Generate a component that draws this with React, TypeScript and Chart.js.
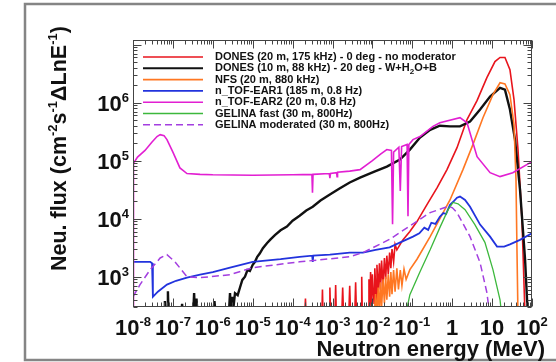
import React, { useEffect, useRef } from "react";
import { Chart, registerables } from "chart.js";

Chart.register(...registerables);

// ---------- axes ----------
const X_MIN = 1e-8;
const X_MAX = 100;
const Y_MIN = 300;
const Y_MAX = 1.2e7;
const xTickValues = [1e-8, 1e-7, 1e-6, 1e-5, 1e-4, 1e-3, 1e-2, 1e-1, 1, 10, 100];
const xTickBase = ["10", "10", "10", "10", "10", "10", "10", "10", "1", "10", "10"];
const xTickSup = ["-8", "-7", "-6", "-5", "-4", "-3", "-2", "-1", "", "", "2"];
const yTickValues = [1e3, 1e4, 1e5, 1e6];
const yTickBase = ["10", "10", "10", "10"];
const yTickSup = ["3", "4", "5", "6"];
const xTitle = "Neutron energy (MeV)";
// [text, 0 = normal, 1 = superscript]
const yTitle: [string, number][] = [
  ["Neu. flux (cm", 0], ["-2", 1], ["s", 0], ["-1", 1], ["\u0394LnE", 0], ["-1", 1], [")", 0],
];

// ---------- series labels ----------
const seriesLabels = [
  "DONES (20 m, 175 kHz) - 0 deg - no moderator",
  "DONES (10 m, 88 kHz) - 20 deg - W+H\u2082O+B",
  "NFS (20 m, 880 kHz)",
  "n_TOF-EAR1 (185 m, 0.8 Hz)",
  "n_TOF-EAR2 (20 m, 0.8 Hz)",
  "GELINA fast (30 m, 800Hz)",
  "GELINA moderated (30 m, 800Hz)",
];

// ---------- series data: [energy MeV, flux] ----------
const dones20: [number, number][] = [
  [2.0e-4, 200], [2.1e-4, 420], [2.2e-4, 200], [5.4e-4, 200], [5.6e-4, 600], [5.8e-4, 200],
  [8.2e-4, 200], [8.6e-4, 650], [9.0e-4, 200], [1.15e-3, 200], [1.2e-3, 720], [1.25e-3, 200],
  [1.7e-3, 200], [1.8e-3, 650], [1.9e-3, 200], [2.55e-3, 200], [2.7e-3, 700], [2.85e-3, 200],
  [3.6e-3, 200], [3.8e-3, 800], [4.0e-3, 200], [5.2e-3, 200], [5.4e-3, 1000], [5.6e-3, 200],
  [7.8e-3, 200], [8.2e-3, 900], [8.6e-3, 250], [9.0e-3, 1200], [9.6e-3, 300], [1.0e-2, 1100],
  [1.1e-2, 350], [1.15e-2, 1400], [1.25e-2, 400], [1.3e-2, 1600], [1.4e-2, 500], [1.5e-2, 1700],
  [1.6e-2, 600], [1.7e-2, 1900], [1.85e-2, 700], [2.0e-2, 2100], [2.15e-2, 900], [2.3e-2, 2300],
  [2.5e-2, 1100], [2.7e-2, 2600], [2.9e-2, 1400], [3.1e-2, 3000], [3.4e-2, 1800], [3.7e-2, 3600],
  [4.1e-2, 2900], [5.8e-2, 4300], [8.7e-2, 6000], [0.131, 8900], [0.233, 1.74e4], [0.416, 3.4e4],
  [0.74, 7.0e4], [1.32, 1.67e5], [2.35, 5.1e5], [4.19, 1.08e6], [7.4, 2.7e6], [11.8, 5.1e6],
  [15.8, 6.0e6], [21, 6.0e6], [28, 3.7e6], [35.4, 1.13e6], [44.6, 1.55e5], [56, 9.6e3], [67, 200],
];

const dones10: [number, number][] = [
  [6.0e-8, 200], [6.3e-8, 380], [6.6e-8, 200], [7.2e-8, 200], [7.5e-8, 560], [7.8e-8, 200],
  [1.6e-7, 200], [1.7e-7, 340], [1.8e-7, 200], [3.2e-7, 200], [3.4e-7, 520], [3.6e-7, 200],
  [3.9e-7, 420], [4.2e-7, 200], [1.0e-6, 200], [1.1e-6, 380], [1.2e-6, 200], [2.5e-6, 200],
  [2.7e-6, 520], [2.9e-6, 200], [3.1e-6, 450], [3.3e-6, 300], [3.6e-6, 520], [4.2e-6, 480],
  [4.8e-6, 650], [5.5e-6, 880], [6.4e-6, 1000], [7.4e-6, 1300], [8.5e-6, 1250], [1.0e-5, 1600],
  [1.14e-5, 1800], [1.3e-5, 2200], [1.5e-5, 2500], [1.8e-5, 3100], [2.3e-5, 3800], [2.8e-5, 4400],
  [3.6e-5, 5200], [5.0e-5, 6300], [7.2e-5, 7300], [1.0e-4, 9200], [1.5e-4, 1.12e4], [2.2e-4, 1.38e4],
  [3.2e-4, 1.6e4], [5.0e-4, 2.05e4], [8.6e-4, 2.6e4], [1.5e-3, 3.3e4], [2.7e-3, 4.2e4], [4.9e-3, 5.1e4],
  [1.16e-2, 6.5e4], [2.3e-2, 7.9e4], [4.9e-2, 1.04e5], [8.7e-2, 1.55e5], [0.156, 2.5e5], [0.28, 3.4e5],
  [0.49, 4.0e5], [0.88, 3.9e5], [1.57, 3.9e5], [2.8, 4.7e5], [5.0, 7.6e5], [8.9, 1.27e6],
  [15.8, 1.8e6], [21, 1.67e6], [28, 7.6e5], [37.5, 2.3e5], [50, 3.2e4], [67, 2.0e3], [79, 200],
];

const nfs: [number, number][] = [
  [1.1e-2, 200], [1.2e-2, 500], [1.3e-2, 220], [1.4e-2, 650], [1.5e-2, 250], [1.6e-2, 800],
  [1.7e-2, 300], [1.85e-2, 900], [2.0e-2, 350], [2.15e-2, 1000], [2.3e-2, 400], [2.5e-2, 1100],
  [2.7e-2, 450], [2.9e-2, 1200], [3.1e-2, 500], [3.4e-2, 1300], [3.7e-2, 550], [4.1e-2, 1400],
  [4.5e-2, 600], [5.0e-2, 1300], [5.5e-2, 700], [6.2e-2, 1350], [7.0e-2, 900], [8.7e-2, 1320],
  [0.131, 2000], [0.28, 4900], [0.88, 2.1e4], [1.86, 7.0e4], [3.3, 1.89e5], [5.9, 5.5e5],
  [10.5, 1.37e6], [15.8, 2.2e6], [21, 2.1e6], [28, 1.37e6], [35.4, 4.2e5], [39.7, 4.7e4],
  [42, 2.9e3], [44.6, 200],
];

const ntofEar1: [number, number][] = [
  [1e-8, 1.8e3], [2.7e-8, 1.8e3], [3.0e-8, 1.7e3], [3.15e-8, 450], [4.2e-8, 550], [7.1e-8, 730],
  [1.2e-7, 850], [2.25e-7, 960], [4.8e-7, 1.08e3], [1.0e-6, 1.2e3], [2.7e-6, 1.43e3], [1.0e-5, 1.8e3],
  [5.0e-5, 2.0e3], [1.5e-4, 2.2e3], [3.1e-4, 2.3e3], [3.2e-4, 1.8e3], [3.3e-4, 2.3e3], [8.6e-4, 2.4e3],
  [2.7e-3, 2.6e3], [5.8e-3, 2.6e3], [1.2e-2, 2.9e3], [2.7e-2, 3.2e3], [5.0e-2, 3.9e3], [0.104, 4.9e3],
  [0.15, 5.6e3], [0.2, 7.0e3], [0.25, 6.4e3], [0.3, 8.5e3], [0.38, 8.1e3], [0.49, 1.08e4],
  [0.6, 1.25e4], [0.7, 1.2e4], [0.88, 1.74e4], [1.1, 2.0e4], [1.32, 2.3e4], [1.57, 2.4e4],
  [2.1, 2.1e4], [2.8, 1.6e4], [5.0, 7.9e3], [8.9, 4.9e3], [13.3, 3.3e3], [20, 3.3e3],
  [28, 3.6e3], [50, 4.3e3], [100, 5.6e3],
];

const ntofEar2: [number, number][] = [
  [1.0e-8, 250], [1.03e-8, 9.0e4], [1.3e-8, 1.15e5], [2.0e-8, 1.5e5], [3.0e-8, 2.1e5], [4.0e-8, 2.6e5],
  [4.8e-8, 2.8e5], [6.0e-8, 2.7e5], [7.1e-8, 2.3e5], [1.0e-7, 1.4e5], [1.5e-7, 7.5e4], [2.25e-7, 6.0e4],
  [4.8e-7, 5.8e4], [1.0e-6, 5.7e4], [1.0e-5, 5.6e4], [1.0e-4, 5.7e4], [3.05e-4, 5.8e4], [3.15e-4, 2.8e4],
  [3.25e-4, 5.8e4], [8.3e-4, 6.0e4], [8.6e-4, 5.0e4], [8.9e-4, 6.0e4], [1.27e-3, 6.2e4], [1.3e-3, 5.3e4],
  [1.34e-3, 6.3e4], [2.7e-3, 6.6e4], [4.9e-3, 7.0e4], [1.0e-2, 1.0e5], [1.6e-2, 1.3e5], [2.3e-2, 1.55e5],
  [3.0e-2, 1.5e5], [3.2e-2, 8.0e3], [3.4e-2, 1.4e5], [4.6e-2, 1.7e5], [5.0e-2, 3.0e4], [5.4e-2, 1.75e5],
  [7.4e-2, 1.9e5], [7.8e-2, 1.1e4], [8.2e-2, 1.9e5], [0.104, 2.3e5], [0.156, 2.6e5], [0.33, 3.9e5],
  [0.49, 4.5e5], [1.57, 5.5e5], [2.35, 4.5e5], [4.2, 1.17e5], [8.9, 6.2e4], [15.8, 5.3e4],
  [33, 6.2e4], [100, 9.6e4],
];

const gelinaFast: [number, number][] = [
  [6.6e-2, 200], [8.7e-2, 490], [0.156, 1.22e3], [0.28, 2.9e3], [0.49, 7.0e3], [0.79, 1.43e4],
  [1.05, 1.9e4], [1.4, 1.8e4], [2.1, 1.43e4], [3.7, 7.9e3], [6.6, 3.9e3], [10.5, 1.32e3],
  [15.8, 400], [17.6, 200],
];

const gelinaMod: [number, number][] = [
  [1e-8, 450], [1.5e-8, 730], [2.7e-8, 1.32e3], [4.8e-8, 2.1e3], [7.1e-8, 2.4e3], [1.13e-7, 1.8e3],
  [2.25e-7, 1.0e3], [4.8e-7, 960], [2.7e-6, 1.08e3], [1.0e-5, 1.43e3], [1.5e-4, 1.8e3], [2.7e-3, 2.2e3],
  [5.8e-3, 2.6e3], [2.7e-2, 4.4e3], [8.7e-2, 7.5e3], [0.28, 1.27e4], [0.74, 1.6e4], [1.0, 1.55e4],
  [1.32, 1.27e4], [2.8, 4.9e3], [5.0, 1.74e3], [7.4, 530], [8.9, 200],
];

const seriesData = [dones20, dones10, nfs, ntofEar1, ntofEar2, gelinaFast, gelinaMod];
const seriesColors = ["#e8141c", "#111111", "#ff7722", "#2233dd", "#e21fd2", "#3cb83c", "#a33ee0"];
const seriesWidths = [1.6, 2.4, 1.6, 1.8, 1.6, 1.3, 1.5];
const seriesDash: number[][] = [[], [], [], [], [], [], [7, 4]];

const FONT = "'Liberation Sans', Arial, Helvetica, sans-serif";

type Part = [string, number];

function richWidth(ctx: CanvasRenderingContext2D, parts: Part[], base: number, small: number) {
  let w = 0;
  for (const [t, k] of parts) {
    ctx.font = `bold ${k === 0 ? base : small}px ${FONT}`;
    w += ctx.measureText(t).width;
  }
  return w;
}

function drawRich(
  ctx: CanvasRenderingContext2D, parts: Part[], x: number, y: number,
  base: number, small: number, supShift: number, subShift: number,
) {
  let cx = x;
  for (const [t, k] of parts) {
    ctx.font = `bold ${k === 0 ? base : small}px ${FONT}`;
    const dy = k === 1 ? -supShift : k === 2 ? subShift : 0;
    ctx.fillText(t, cx, y + dy);
    cx += ctx.measureText(t).width;
  }
}

const decorPlugin = {
  id: "decor",
  beforeDraw(chart: any) {
    const { ctx, width, height } = chart;
    ctx.save();
    ctx.fillStyle = "#ffffff";
    ctx.fillRect(0, 0, width, height);
    ctx.restore();
  },
  afterDraw(chart: any) {
    const { ctx, chartArea: a } = chart;
    const xs = chart.scales.x;
    const ys = chart.scales.y;
    ctx.save();

    // outer figure frame
    ctx.strokeStyle = "#858585";
    ctx.lineWidth = 2.5;
    ctx.strokeRect(25, 4, 600, 356);

    // plot frame
    const L = Math.round(a.left) + 0.5;
    const R = Math.round(a.right) - 0.5;
    const T = Math.round(a.top) + 0.5;
    const B = Math.round(a.bottom) - 0.5;
    ctx.strokeStyle = "#444444";
    ctx.lineWidth = 1;
    ctx.strokeRect(L, T, R - L, B - T);

    // inward ticks
    ctx.beginPath();
    for (let e = -8; e <= 2; e++) {
      for (let m = 1; m <= 9; m++) {
        const v = m * Math.pow(10, e);
        if (v > X_MAX * 1.0001) break;
        const px = Math.round(xs.getPixelForValue(v)) + 0.5;
        const len = m === 1 ? 8 : 4;
        ctx.moveTo(px, B); ctx.lineTo(px, B - len);
        ctx.moveTo(px, T); ctx.lineTo(px, T + len);
      }
    }
    for (let e = 2; e <= 7; e++) {
      for (let m = 1; m <= 9; m++) {
        const v = m * Math.pow(10, e);
        if (v < Y_MIN || v > Y_MAX) continue;
        const py = Math.round(ys.getPixelForValue(v)) + 0.5;
        const len = m === 1 ? 8 : 4;
        ctx.moveTo(L, py); ctx.lineTo(L + len, py);
        ctx.moveTo(R, py); ctx.lineTo(R - len, py);
      }
    }
    ctx.stroke();

    ctx.fillStyle = "#111111";
    ctx.textBaseline = "alphabetic";
    ctx.textAlign = "left";

    // x tick labels
    const BASE = 22, SUP = 13;
    xTickValues.forEach((v, i) => {
      const parts: Part[] = [[xTickBase[i], 0]];
      if (xTickSup[i]) parts.push([xTickSup[i], 1]);
      const w = richWidth(ctx, parts, BASE, SUP);
      const px = xs.getPixelForValue(v);
      drawRich(ctx, parts, px - w / 2, 335, BASE, SUP, 9, 0);
    });

    // y tick labels
    yTickValues.forEach((v, i) => {
      const parts: Part[] = [[yTickBase[i], 0], [yTickSup[i], 1]];
      const w = richWidth(ctx, parts, BASE, SUP);
      const py = ys.getPixelForValue(v);
      drawRich(ctx, parts, 129 - w, py + 8, BASE, SUP, 9, 0);
    });

    // x title
    ctx.font = `bold 22px ${FONT}`;
    ctx.textAlign = "right";
    ctx.fillText(xTitle, 545, 356);
    ctx.textAlign = "left";

    // y title (rotated)
    ctx.save();
    ctx.translate(66, 271);
    ctx.rotate(-Math.PI / 2);
    drawRich(ctx, yTitle, 0, 0, 21.5, 13, 9, 0);
    ctx.restore();

    // legend
    chart.data.datasets.forEach((ds: any, i: number) => {
      const y = 57 + 11.3 * i;
      ctx.save();
      ctx.strokeStyle = ds.borderColor;
      ctx.lineWidth = Math.min(Math.max(ds.borderWidth, 1.6), 2);
      ctx.setLineDash(ds.borderDash || []);
      ctx.beginPath();
      ctx.moveTo(143, y);
      ctx.lineTo(203, y);
      ctx.stroke();
      ctx.restore();
      ctx.fillStyle = "#111111";
      ctx.textBaseline = "middle";
      const pieces = String(ds.label).split("\u2082");
      const parts: Part[] = [];
      pieces.forEach((p, k) => {
        if (k > 0) parts.push(["2", 2]);
        parts.push([p, 0]);
      });
      drawRich(ctx, parts, 215, y, 11, 8, 0, 3);
    });

    ctx.restore();
  },
};

export default function App() {
  const ref = useRef<HTMLCanvasElement | null>(null);

  useEffect(() => {
    const prevMargin = document.body.style.margin;
    document.body.style.margin = "0";
    const canvas = ref.current!;
    const datasets = seriesData.map((d, i) => ({
      label: seriesLabels[i],
      data: d.map(([x, y]) => ({ x, y })),
      borderColor: seriesColors[i],
      backgroundColor: seriesColors[i],
      borderWidth: seriesWidths[i],
      borderDash: seriesDash[i],
      pointRadius: 0,
      fill: false,
      tension: 0,
      order: seriesData.length - i,
    }));
    const chart = new Chart(canvas, {
      type: "line",
      data: { datasets },
      options: {
        responsive: false,
        animation: false,
        devicePixelRatio: 1,
        layout: { padding: { left: 133, top: 40, right: 24, bottom: 55 } },
        plugins: { legend: { display: false }, tooltip: { enabled: false } },
        scales: {
          x: { type: "logarithmic", min: X_MIN, max: X_MAX, display: false },
          y: { type: "logarithmic", min: Y_MIN, max: Y_MAX, display: false },
        },
        elements: { point: { radius: 0 }, line: { tension: 0 } },
      },
      plugins: [decorPlugin],
    } as any);
    return () => {
      chart.destroy();
      document.body.style.margin = prevMargin;
    };
  }, []);

  return (
    <div style={{ position: "fixed", left: 0, top: 0, width: 556, height: 362, background: "#fff" }}>
      <canvas ref={ref} width={556} height={362} style={{ display: "block" }} />
    </div>
  );
}
